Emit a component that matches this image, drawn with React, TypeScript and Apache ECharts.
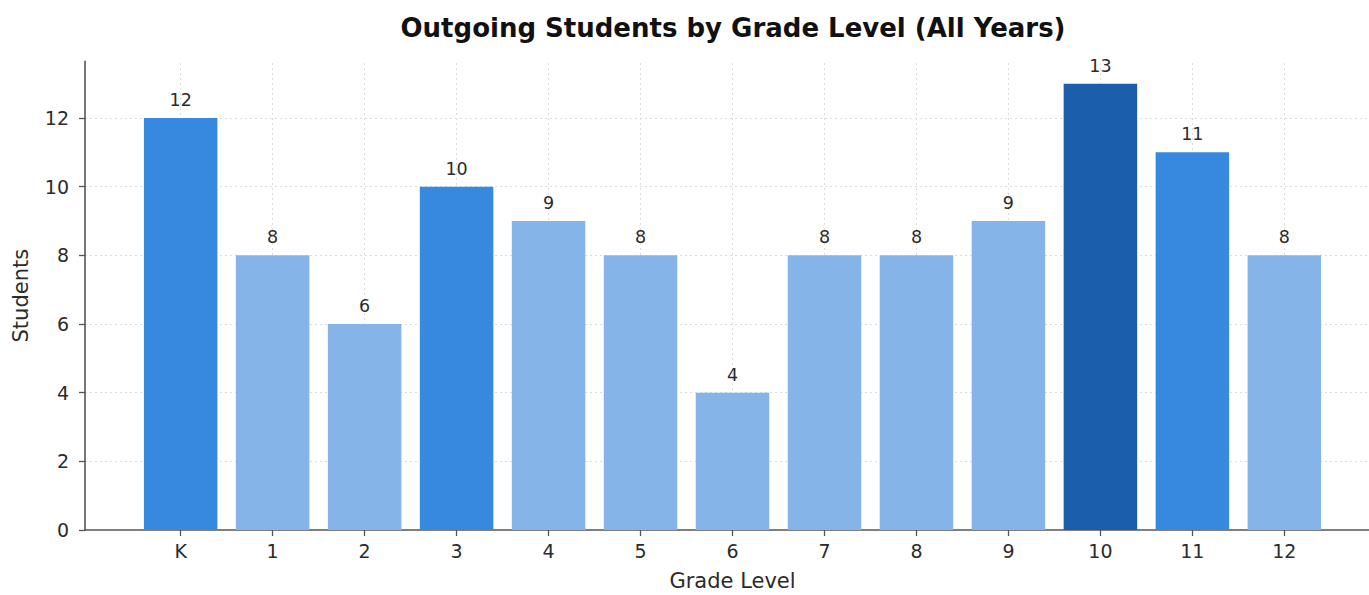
import React, { useEffect, useRef } from "react";
import * as echarts from "echarts";

// Grade levels and number of outgoing students per grade
const grades: string[] = ["K", "1", "2", "3", "4", "5", "6", "7", "8", "9", "10", "11", "12"];
const students: number[] = [12, 8, 6, 10, 9, 8, 4, 8, 8, 9, 13, 11, 8];
const yTicks: number[] = [0, 2, 4, 6, 8, 10, 12];

const LIGHT = "#84b4e8";
const MEDIUM = "#3689de";
const DARK = "#1b5ea9";

function barColor(v: number): string {
  if (v >= 13) return DARK;
  if (v >= 10) return MEDIUM;
  return LIGHT;
}

const FONT = "DejaVu Sans";
const AXIS_COLOR = "#555555";
const TEXT_COLOR = "#2b2b2b";

export default function App() {
  const ref = useRef<HTMLDivElement>(null);

  useEffect(() => {
    if (!ref.current) return;
    const chart = echarts.init(ref.current, null, { renderer: "svg" });
    const positions = grades.map((_, i) => i);
    chart.setOption({
      animation: false,
      backgroundColor: "#ffffff",
      title: {
        text: "Outgoing Students by Grade Level (All Years)",
        left: 728,
        top: 10,
        textAlign: "center",
        textStyle: { fontFamily: FONT, fontSize: 26, fontWeight: "bold", color: "#111111" },
      },
      grid: { left: 85, right: -11, top: 61.4, bottom: 65, outerBoundsMode: "none", containLabel: false },
      xAxis: {
        type: "value",
        min: -1.04,
        max: 13.04,
        name: "Grade Level",
        nameLocation: "middle",
        nameGap: 40,
        nameTextStyle: { fontFamily: FONT, fontSize: 21, color: TEXT_COLOR },
        axisLine: { show: true, onZero: false, lineStyle: { color: AXIS_COLOR, width: 1.6 } },
        axisTick: { show: true, customValues: positions, length: 6, lineStyle: { color: AXIS_COLOR, width: 1.3 } },
        axisLabel: {
          customValues: positions,
          formatter: (v: number) => grades[Math.round(v)] ?? "",
          fontFamily: FONT,
          fontSize: 19,
          color: TEXT_COLOR,
          margin: 11,
        },
        splitLine: { show: false },
      },
      yAxis: {
        type: "value",
        min: 0,
        max: 13.65,
        name: "Students",
        nameLocation: "middle",
        nameGap: 54,
        nameTextStyle: { fontFamily: FONT, fontSize: 21, color: TEXT_COLOR },
        axisLine: { show: true, onZero: false, lineStyle: { color: AXIS_COLOR, width: 1.6 } },
        axisTick: { show: true, customValues: yTicks, length: 6, lineStyle: { color: AXIS_COLOR, width: 1.3 } },
        axisLabel: {
          customValues: yTicks,
          fontFamily: FONT,
          fontSize: 19,
          color: TEXT_COLOR,
          margin: 16,
        },
        splitLine: { show: false },
      },
      series: [
        {
          type: "bar",
          barWidth: 73.5,
          z: 3,
          data: students.map((v, i) => ({
            value: [i, v],
            itemStyle: { color: barColor(v) },
          })),
          label: {
            show: true,
            position: "top",
            distance: 9,
            formatter: (p: any) => String(p.value[1]),
            fontFamily: FONT,
            fontSize: 17.5,
            color: TEXT_COLOR,
          },
        },
        // dotted background grid at the tick positions, kept behind the bars
        {
          type: "line",
          data: [],
          z: 0,
          markLine: {
            z: 0,
            silent: true,
            symbol: "none",
            label: { show: false },
            lineStyle: { type: [2, 3], color: "#dcdcdc", width: 1 },
            data: [
              ...yTicks.slice(1).map((t) => ({ yAxis: t })),
              ...positions.map((p) => ({ xAxis: p })),
            ],
          },
        },
      ],
    });
    return () => chart.dispose();
  }, []);

  return <div ref={ref} style={{ width: 1369, height: 595, position: "absolute", left: 0, top: 0 }} />;
}
